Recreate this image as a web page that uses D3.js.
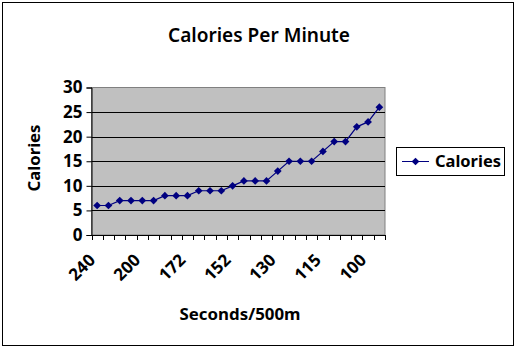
<!DOCTYPE html>
<html><head><meta charset="utf-8">
<script src="https://cdn.jsdelivr.net/npm/d3@7"></script>
<style>body{margin:0;background:#fff}svg{display:block}text{font-family:"Noto Sans",sans-serif;fill:#000}</style>
</head><body><svg id="c" width="518" height="350"></svg>
<script>
const categories = ["240","230","220","210","200","192","186","179","172","167","162","157","152","146","141","135","130","126","122","118","115","111","108","104","100","97"];
const calories = [6,6,7,7,7,7,8,8,8,9,9,9,10,11,11,11,13,15,15,15,17,19,19,22,23,26];
const yTicks = [0,5,10,15,20,25,30];
const seriesName = "Calories";

const svg = d3.select("#c");
svg.append("rect").attr("x",2.5).attr("y",2.5).attr("width",511).attr("height",343).attr("fill","#fff").attr("stroke","#000");

const L=91.5,R=385,T=87.5,B=235;
const x = d3.scaleBand().domain(categories).range([L,R]);
const y = d3.scaleLinear().domain([0,30]).range([B,T]);

svg.append("rect").attr("x",L).attr("y",T).attr("width",R-L).attr("height",B-T).attr("fill","#c0c0c0").attr("stroke","#808080");

svg.append("g").selectAll("line").data(yTicks.filter(d=>d>0&&d<30)).join("line")
 .attr("x1",L).attr("x2",R).attr("y1",d=>Math.round(y(d))+0.5).attr("y2",d=>Math.round(y(d))+0.5).attr("stroke","#000");

// y axis
const ya = svg.append("g").attr("transform",`translate(${L},0)`)
 .call(d3.axisLeft(y).tickValues(yTicks).tickSize(5).tickPadding(4));
ya.select(".domain").attr("stroke","#000");
ya.selectAll("text").attr("font-size",17).attr("font-weight","bold").attr("fill","#000").attr("font-family","Noto Sans");

// x axis ticks between categories
const xa = svg.append("g").attr("transform",`translate(0,${B})`);
xa.append("line").attr("x1",L).attr("x2",R).attr("y1",0.5).attr("y2",0.5).attr("stroke","#000");
const bounds = categories.map(c=>x(c)).concat([R]);
xa.selectAll("line.t").data(bounds).join("line").attr("class","t")
 .attr("x1",d=>Math.round(d)+0.5).attr("x2",d=>Math.round(d)+0.5).attr("y1",0).attr("y2",5).attr("stroke","#000");
xa.selectAll("text").data(categories.filter((d,i)=>i%4===0)).join("text")
 .attr("transform",d=>`translate(${x(d)+x.bandwidth()/2-5},${22}) rotate(-45)`)
 .attr("text-anchor","end").attr("dy","0.35em").attr("font-size",17).attr("font-weight","bold")
 .text(d=>d);

// line
const cx = (d,i)=>x(categories[i])+x.bandwidth()/2;
const marker = d3.symbol(d3.symbolSquare,30);
svg.append("path").datum(calories).attr("fill","none").attr("stroke","#000080").attr("stroke-width",1.2)
 .attr("d",d3.line().x(cx).y(d=>y(d)));
svg.append("g").selectAll("path").data(calories).join("path")
 .attr("d",marker).attr("fill","#000080")
 .attr("transform",(d,i)=>`translate(${cx(d,i)},${y(d)}) rotate(45)`);

// title
svg.append("text").attr("x",259).attr("y",42).attr("text-anchor","middle").attr("font-size",19).attr("font-weight",600)
 .attr("textLength",182).attr("lengthAdjust","spacingAndGlyphs").text("Calories Per Minute");
svg.append("text").attr("transform","translate(40,158) rotate(-90)").attr("text-anchor","middle")
 .attr("font-size",16).attr("font-weight","bold").attr("textLength",67).attr("lengthAdjust","spacingAndGlyphs").text("Calories");
svg.append("text").attr("x",240).attr("y",320).attr("text-anchor","middle")
 .attr("font-size",16).attr("font-weight","bold").attr("textLength",121).attr("lengthAdjust","spacingAndGlyphs").text("Seconds/500m");

// legend
const lg = svg.append("g");
lg.append("rect").attr("x",396.5).attr("y",147.5).attr("width",108).attr("height",28).attr("fill","#fff").attr("stroke","#000");
lg.append("line").attr("x1",402).attr("x2",429).attr("y1",161.5).attr("y2",161.5).attr("stroke","#000080");
lg.append("path").attr("d",marker).attr("fill","#000080").attr("transform","translate(415.5,161.5) rotate(45)");
lg.append("text").attr("x",435).attr("y",167).attr("font-size",16).attr("font-weight","bold")
 .attr("textLength",66).attr("lengthAdjust","spacingAndGlyphs").text(seriesName);
</script></body></html>
